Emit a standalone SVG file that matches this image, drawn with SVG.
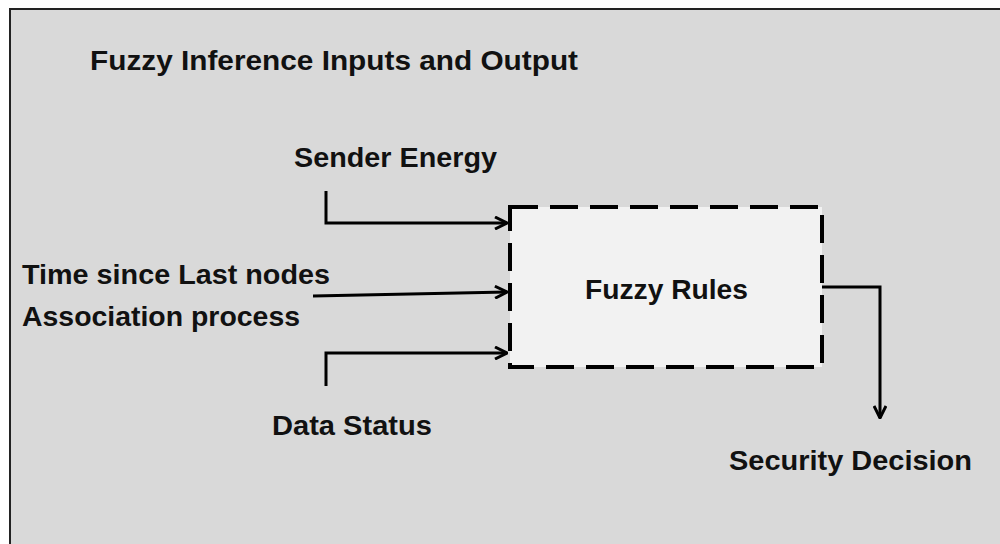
<svg xmlns="http://www.w3.org/2000/svg" width="1000" height="544" viewBox="0 0 1000 544">
<style>
text{font-family:"Liberation Sans",Arial,sans-serif;font-weight:bold;font-size:28px;fill:#111}
.c{fill:none;stroke:#000;stroke-width:3}
</style>
<defs>
<marker id="ar" viewBox="0 0 14 14" refX="13" refY="7" markerWidth="14" markerHeight="14" markerUnits="userSpaceOnUse" orient="auto">
<polyline points="1,1 13,7 1,13" fill="none" stroke="#000" stroke-width="3"/>
</marker>
</defs>
<rect x="0" y="0" width="1000" height="544" fill="#fff"/>
<rect x="10" y="9" width="992" height="540" fill="#d9d9d9"/>
<path d="M10,544 V9 H1000" fill="none" stroke="#222" stroke-width="2"/>
<g id="title"><text x="90" y="70" textLength="488" lengthAdjust="spacingAndGlyphs">Fuzzy Inference Inputs and Output</text></g>
<g id="sender"><text x="294" y="167" textLength="203" lengthAdjust="spacingAndGlyphs">Sender Energy</text></g>
<g id="time"><text x="22" y="284" textLength="308" lengthAdjust="spacingAndGlyphs">Time since Last nodes</text><text x="22" y="326" textLength="278" lengthAdjust="spacingAndGlyphs">Association process</text></g>
<g id="data"><text x="272" y="435" textLength="160" lengthAdjust="spacingAndGlyphs">Data Status</text></g>
<g id="rules">
<rect x="510" y="207" width="312" height="160" fill="#f2f2f2" stroke="#000" stroke-width="4" stroke-dasharray="28,12"/>
<text x="585" y="299" textLength="163" lengthAdjust="spacingAndGlyphs">Fuzzy Rules</text>
</g>
<g id="security"><text x="729" y="470" textLength="243" lengthAdjust="spacingAndGlyphs">Security Decision</text></g>
<g id="connectors">
<path class="c" d="M326,191 V223 H507" marker-end="url(#ar)"/>
<path class="c" d="M313,296 L507,292" marker-end="url(#ar)"/>
<path class="c" d="M326,386 V353 H507" marker-end="url(#ar)"/>
<path class="c" d="M822,287 H880 V418" marker-end="url(#ar)"/>
</g>
</svg>
